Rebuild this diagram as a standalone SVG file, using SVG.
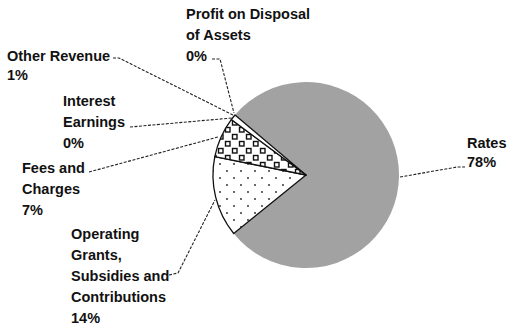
<svg xmlns="http://www.w3.org/2000/svg" width="507" height="325" viewBox="0 0 507 325">
<style>
.lbl{font-family:"Liberation Sans",Arial,sans-serif;font-size:14.5px;font-weight:bold;fill:#111}
.lead{fill:none;stroke:#222;stroke-width:1.1;stroke-dasharray:3 1.5}
.edge{stroke:#111;stroke-width:1.3;stroke-linejoin:round}
</style>
<defs>
<pattern id="dots" width="14" height="14" patternUnits="userSpaceOnUse">
<rect width="14" height="14" fill="#fff"/>
<circle cx="3" cy="3" r="0.9" fill="#222"/>
<circle cx="10" cy="10" r="0.9" fill="#222"/>
</pattern>
<pattern id="checks" width="14" height="14" patternUnits="userSpaceOnUse">
<rect width="14" height="14" fill="#fff"/>
<rect x="1.5" y="1.5" width="4.5" height="4.5" fill="#fff" stroke="#111" stroke-width="1.4"/>
<rect x="8.5" y="8.5" width="4.5" height="4.5" fill="#fff" stroke="#111" stroke-width="1.4"/>
</pattern>
</defs>
<rect width="507" height="325" fill="#fff"/>
<g id="connectors">
<polyline class="lead" points="400,177 457,167 465,167"/>
<polyline class="lead" points="212,59 220,59 234,113"/>
<polyline class="lead" points="113,58 119,58 233,115"/>
<polyline class="lead" points="130,127 232,118"/>
<polyline class="lead" points="89,172 218,137"/>
<polyline class="lead" points="169,275 178,273 215,200"/>
</g>
<g id="rates">
<path d="M306,175 L235,115 A93,93 0 1 1 233.7,233.5 Z" fill="#a2a2a2"/>
<text class="lbl" x="467" y="148">Rates</text>
<text class="lbl" x="467" y="167">78%</text>
</g>
<g id="grants">
<path class="edge" d="M306,175 L233.7,233.5 A93,93 0 0 1 214.8,156.6 Z" fill="url(#dots)"/>
<text class="lbl" x="71" y="239">Operating</text>
<text class="lbl" x="71" y="260">Grants,</text>
<text class="lbl" x="71" y="281">Subsidies and</text>
<text class="lbl" x="71" y="302">Contributions</text>
<text class="lbl" x="71" y="323">14%</text>
</g>
<g id="fees">
<path class="edge" d="M306,175 L214.8,156.6 A93,93 0 0 1 231.3,119.6 Z" fill="url(#checks)"/>
<text class="lbl" x="22" y="173">Fees and</text>
<text class="lbl" x="22" y="194">Charges</text>
<text class="lbl" x="22" y="215">7%</text>
</g>
<g id="other-revenue">
<path class="edge" d="M306,175 L231.3,119.6 A93,93 0 0 1 235,115 Z" fill="#fff"/>
<text class="lbl" x="7" y="61">Other Revenue</text>
<text class="lbl" x="7" y="80">1%</text>
</g>
<g id="interest">
<text class="lbl" x="63" y="106">Interest</text>
<text class="lbl" x="63" y="127">Earnings</text>
<text class="lbl" x="63" y="148">0%</text>
</g>
<g id="profit">
<text class="lbl" x="186" y="19">Profit on Disposal</text>
<text class="lbl" x="186" y="40">of Assets</text>
<text class="lbl" x="186" y="61">0%</text>
</g>
</svg>
